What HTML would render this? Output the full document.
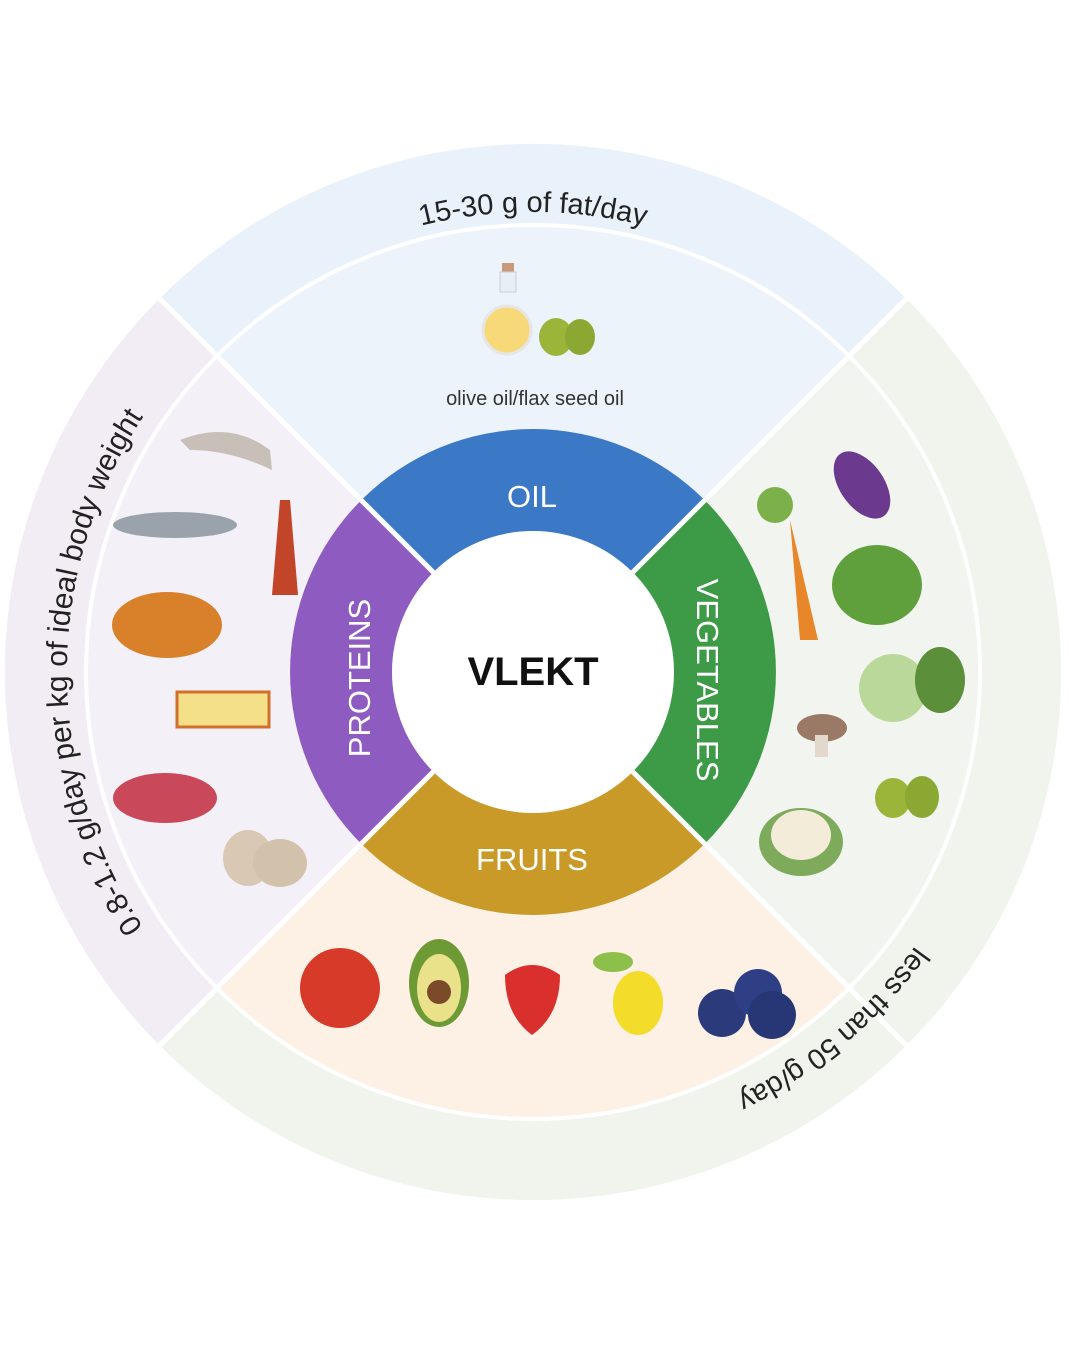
<!DOCTYPE html>
<html><head><meta charset="utf-8"><style>
html,body{margin:0;padding:0;background:#fff;}
svg{display:block;font-family:"Liberation Sans",sans-serif;}
</style></head><body>
<svg width="1080" height="1350" viewBox="0 0 1080 1350">
<defs>
<path id="tp" d="M207.7,346.7 A460,460 0 0 1 858.3,346.7"/>
<path id="bp" d="M1003,672 A470,470 0 0 1 451.4,1134.9"/>
<path id="lp" d="M234,1029 A465,465 0 0 1 234,315"/>
</defs>
<path d="M533,672 L159.6,298.6 A528,528 0 0 1 906.4,298.6 Z" fill="#e9f1fa"/>
<path d="M533,672 L906.4,298.6 A528,528 0 0 1 906.4,1045.4 Z" fill="#f0f4ed"/>
<path d="M533,672 L906.4,1045.4 A528,528 0 0 1 159.6,1045.4 Z" fill="#f0f4ed"/>
<path d="M533,672 L159.6,1045.4 A528,528 0 0 1 159.6,298.6 Z" fill="#f2edf5"/>
<path d="M533,672 L216.9,355.9 A447,447 0 0 1 849.1,355.9 Z" fill="#edf3fb"/>
<path d="M533,672 L849.1,355.9 A447,447 0 0 1 849.1,988.1 Z" fill="#f2f5ef"/>
<path d="M533,672 L849.1,988.1 A447,447 0 0 1 216.9,988.1 Z" fill="#fdf0e4"/>
<path d="M533,672 L216.9,988.1 A447,447 0 0 1 216.9,355.9 Z" fill="#f4f0f7"/>
<circle cx="533" cy="672" r="447" fill="none" stroke="#fff" stroke-width="4"/>
<path d="M533,672 L361.2,500.2 A243,243 0 0 1 704.8,500.2 Z" fill="#3b78c5"/>
<path d="M533,672 L704.8,500.2 A243,243 0 0 1 704.8,843.8 Z" fill="#3d9a47"/>
<path d="M533,672 L704.8,843.8 A243,243 0 0 1 361.2,843.8 Z" fill="#c99a28"/>
<path d="M533,672 L361.2,843.8 A243,243 0 0 1 361.2,500.2 Z" fill="#8e5cc0"/>
<g stroke="#fff" stroke-width="5">
<line x1="159.6" y1="298.6" x2="906.4" y2="1045.4"/>
<line x1="906.4" y1="298.6" x2="159.6" y2="1045.4"/>
</g>
<circle cx="533" cy="672" r="141" fill="#fff"/>
<text x="533" y="685" font-size="40" font-weight="bold" text-anchor="middle" fill="#111">VLEKT</text>
<text x="532" y="507" font-size="31" text-anchor="middle" fill="#fff">OIL</text>
<text x="532" y="870" font-size="31" text-anchor="middle" fill="#fff">FRUITS</text>
<text transform="translate(370,678) rotate(-90)" font-size="31" text-anchor="middle" fill="#fff">PROTEINS</text>
<text transform="translate(697,680) rotate(90)" font-size="31" text-anchor="middle" fill="#fff">VEGETABLES</text>
<text font-size="29" fill="#222"><textPath href="#tp" startOffset="50%" text-anchor="middle">15-30 g of fat/day</textPath></text>
<text font-size="29" fill="#222"><textPath href="#bp" startOffset="50%" text-anchor="middle">less than 50 g/day</textPath></text>
<text font-size="30" fill="#222"><textPath href="#lp" startOffset="50%" text-anchor="middle">0.8-1.2 g/day per kg of ideal body weight</textPath></text>
<text x="535" y="405" font-size="20" text-anchor="middle" fill="#333">olive oil/flax seed oil</text>
<rect x="502" y="263" width="12" height="10" fill="#c79a7a"/>
<rect x="500" y="272" width="16" height="20" fill="#e8eef5" stroke="#ccd" />
<circle cx="507" cy="330" r="24" fill="#f8d97a" stroke="#e6e6e6" stroke-width="3"/>
<ellipse cx="556" cy="337" rx="17" ry="19" fill="#9bb43a"/>
<ellipse cx="580" cy="337" rx="15" ry="18" fill="#8aa832"/>
<ellipse cx="862" cy="485" rx="22" ry="38" transform="rotate(-35 862 485)" fill="#6b3a8f"/>
<path d="M790,520 L818,640 L800,640 Z" fill="#e8862a"/>
<circle cx="775" cy="505" r="18" fill="#7cb04a"/>
<ellipse cx="877" cy="585" rx="45" ry="40" fill="#5fa03c"/>
<circle cx="893" cy="688" r="34" fill="#b9d89a"/>
<ellipse cx="940" cy="680" rx="25" ry="33" fill="#5b8f3a"/>
<ellipse cx="822" cy="728" rx="25" ry="14" fill="#9a7a66"/>
<rect x="815" y="735" width="13" height="22" fill="#e2d8cc"/>
<ellipse cx="893" cy="798" rx="18" ry="20" fill="#9bb43a"/>
<ellipse cx="922" cy="797" rx="17" ry="21" fill="#8aa832"/>
<ellipse cx="801" cy="842" rx="42" ry="34" fill="#7eaa5c"/>
<ellipse cx="801" cy="835" rx="30" ry="25" fill="#f3ecd8"/>
<circle cx="340" cy="988" r="40" fill="#d83a2a"/>
<ellipse cx="439" cy="983" rx="30" ry="44" fill="#6d9a35"/>
<ellipse cx="439" cy="988" rx="22" ry="34" fill="#e9e28a"/>
<circle cx="439" cy="992" r="12" fill="#7a4a2a"/>
<path d="M505,975 Q532,955 560,975 Q560,1015 532,1035 Q505,1015 505,975Z" fill="#d9302e"/>
<ellipse cx="613" cy="962" rx="20" ry="10" fill="#8cc04a"/>
<ellipse cx="638" cy="1003" rx="25" ry="32" fill="#f4dc2a"/>
<circle cx="722" cy="1013" r="24" fill="#2a3a7a"/>
<circle cx="758" cy="993" r="24" fill="#2e3f85"/>
<circle cx="772" cy="1015" r="24" fill="#273775"/>
<path d="M180,440 Q230,420 270,450 L272,470 Q230,450 190,450Z" fill="#c8c0b8"/>
<ellipse cx="175" cy="525" rx="62" ry="13" fill="#9aa3ac"/>
<path d="M280,500 L290,500 L298,595 L272,595Z" fill="#c2452a"/>
<ellipse cx="167" cy="625" rx="55" ry="33" fill="#d9802a"/>
<rect x="177" y="692" width="92" height="35" fill="#f5e08a" stroke="#d0702a" stroke-width="3"/>
<ellipse cx="165" cy="798" rx="52" ry="25" fill="#c9485a"/>
<ellipse cx="248" cy="858" rx="25" ry="28" fill="#d8c8b4"/>
<ellipse cx="280" cy="863" rx="27" ry="24" fill="#d2c2ac"/>
</svg>
</body></html>
